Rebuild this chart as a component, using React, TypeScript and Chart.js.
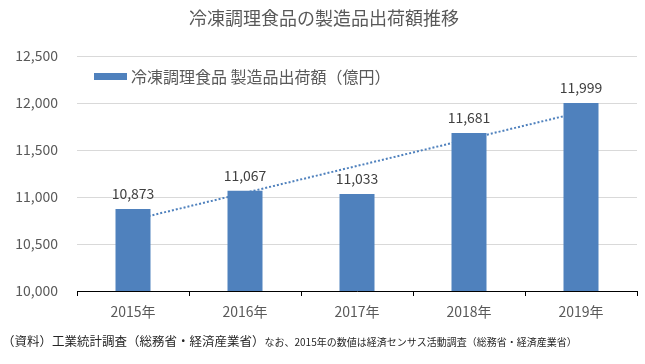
import React, { useEffect, useRef } from "react";
import { Chart, registerables } from "chart.js";

Chart.register(...registerables);

const categories = ["2015年", "2016年", "2017年", "2018年", "2019年"];
const shipmentValues = [10873, 11067, 11033, 11681, 11999];
const trendValues = [10757, null, null, null, 11904];
const yTicks = [10000, 10500, 11000, 11500, 12000, 12500];

const titleText = "冷凍調理食品の製造品出荷額推移";
const seriesLabel = "冷凍調理食品 製造品出荷額（億円）";
const noteMain = "（資料）工業統計調査（総務省・経済産業省）";
const noteSub = "なお、2015年の数値は経済センサス活動調査（総務省・経済産業省）";

const FONT = '"Noto Sans CJK JP", "Noto Sans", sans-serif';
const BAR_COLOR = "#4F81BD";
const fmt = (v: number) => v.toLocaleString("en-US");

const overlayPlugin = {
  id: "overlay",
  afterDatasetsDraw(chart: any) {
    const ctx = chart.ctx;
    ctx.save();
    // title
    ctx.fillStyle = "#595959";
    ctx.font = `18px ${FONT}`;
    ctx.textAlign = "center";
    ctx.textBaseline = "middle";
    ctx.fillText(titleText, 324, 18);

    // legend (inside plot area)
    ctx.fillStyle = BAR_COLOR;
    ctx.fillRect(94, 73, 33, 7);
    ctx.fillStyle = "#595959";
    ctx.font = `16px ${FONT}`;
    ctx.textAlign = "left";
    ctx.fillText(chart.data.datasets[0].label, 131, 77);

    // data labels
    const meta = chart.getDatasetMeta(0);
    ctx.fillStyle = "#404040";
    ctx.font = `14px ${FONT}`;
    ctx.textAlign = "center";
    ctx.textBaseline = "bottom";
    meta.data.forEach((el: any, i: number) => {
      ctx.fillText(fmt(shipmentValues[i]), el.x, el.y - 8);
    });

    // footnote
    ctx.fillStyle = "#262626";
    ctx.textAlign = "left";
    ctx.textBaseline = "middle";
    ctx.font = `12.5px ${FONT}`;
    ctx.fillText(noteMain, 2, 341);
    const w = ctx.measureText(noteMain).width;
    ctx.font = `10px ${FONT}`;
    ctx.fillText(noteSub, 2 + w, 342);
    ctx.restore();
  },
};

export default function App() {
  const ref = useRef<HTMLCanvasElement>(null);
  useEffect(() => {
    const chart = new Chart(ref.current as HTMLCanvasElement, {
      type: "bar",
      data: {
        labels: categories,
        datasets: [
          {
            type: "bar",
            label: seriesLabel,
            data: shipmentValues,
            backgroundColor: BAR_COLOR,
            barPercentage: 0.3125,
            categoryPercentage: 1,
            order: 1,
          },
          {
            type: "line",
            label: "trend",
            data: trendValues as any,
            borderColor: BAR_COLOR,
            borderWidth: 2,
            borderDash: [2, 2],
            pointRadius: 0,
            spanGaps: true,
            fill: false,
            order: 2,
          } as any,
        ],
      },
      plugins: [overlayPlugin],
      options: {
        responsive: false,
        animation: false,
        layout: { padding: { left: 0, right: 8, top: 56, bottom: 43 } },
        plugins: {
          legend: { display: false },
          title: { display: false },
          tooltip: { enabled: false },
        },
        scales: {
          x: {
            afterFit: (s: any) => {
              s.height = 30;
            },
            grid: {
              display: true,
              drawOnChartArea: false,
              drawTicks: true,
              tickLength: 5,
              color: "#000000",
              offset: true,
            },
            border: { display: true, color: "#000000", width: 1 },
            ticks: {
              color: "#595959",
              font: { family: FONT, size: 14 },
              padding: 7,
              maxRotation: 0,
            },
          },
          y: {
            min: 10000,
            max: 12500,
            afterFit: (s: any) => {
              s.width = 77;
            },
            afterBuildTicks: (s: any) => {
              s.ticks = yTicks.map((v) => ({ value: v }));
            },
            grid: { color: "#D9D9D9", drawTicks: false },
            border: { display: false },
            ticks: {
              color: "#595959",
              font: { family: FONT, size: 14 },
              padding: 19,
              callback: (v: any) => fmt(Number(v)),
            },
          },
        },
      },
    } as any);
    return () => chart.destroy();
  }, []);
  return (
    <div style={{ position: "fixed", left: 0, top: 0, width: 645, height: 364, background: "#fff" }}>
      <canvas ref={ref} width={645} height={364} />
    </div>
  );
}
